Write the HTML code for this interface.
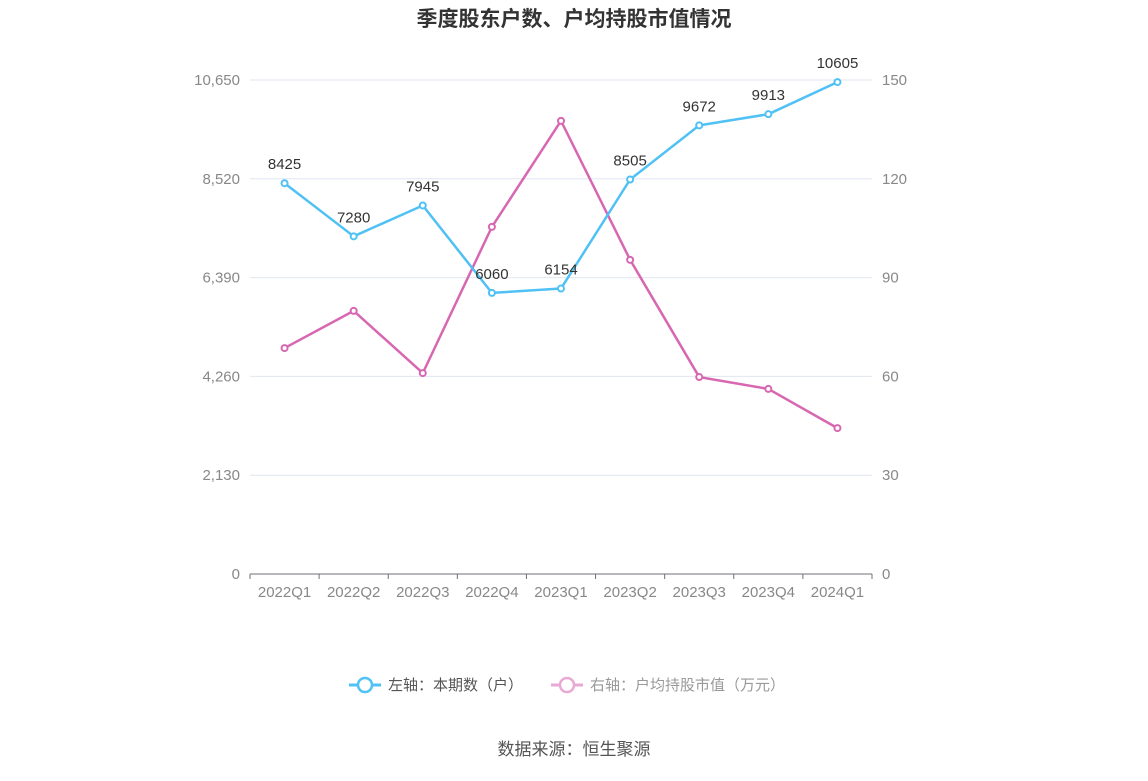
<!DOCTYPE html>
<html><head><meta charset="utf-8"><style>
body{margin:0;background:#fff;font-family:"Liberation Sans","Noto Sans CJK SC",sans-serif}
</style></head><body>
<svg width="1148" height="776" xmlns="http://www.w3.org/2000/svg" id="chart" font-family="Liberation Sans, Noto Sans CJK SC, sans-serif">
<text x="574" y="26" text-anchor="middle" font-size="21" font-weight="bold" fill="#333">季度股东户数、户均持股市值情况</text>
<g id="grid"></g><g id="axes"></g><g id="series"></g>
<g>
<g><line x1="349" y1="685" x2="381" y2="685" stroke="#4fc1f5" stroke-width="3"/><circle cx="365" cy="685" r="7" fill="#fff" stroke="#4fc1f5" stroke-width="2.5"/><text x="388" y="690" font-size="15" fill="#555">左轴：本期数（户）</text></g>
<g><line x1="551" y1="685" x2="583" y2="685" stroke="#e9a9d4" stroke-width="3"/><circle cx="567" cy="685" r="7" fill="#fff" stroke="#e9a9d4" stroke-width="2.5"/><text x="590" y="690" font-size="15" fill="#999">右轴：户均持股市值（万元）</text></g>
</g>
<text x="574" y="755" text-anchor="middle" font-size="17" fill="#555">数据来源：恒生聚源</text>
</svg>
<script>
const categories=["2022Q1","2022Q2","2022Q3","2022Q4","2023Q1","2023Q2","2023Q3","2023Q4","2024Q1"];
const holders=[8425,7280,7945,6060,6154,8505,9672,9913,10605];
const avgValue=[68.6,79.9,61.0,105.4,137.6,95.4,59.8,56.2,44.3];
const leftTicks=[0,2130,4260,6390,8520,10650];
const rightTicks=[0,30,60,90,120,150];
const NS="http://www.w3.org/2000/svg";
const x0=250,x1=872,yB=574,yT=80;
const step=(x1-x0)/categories.length;
const xS=i=>x0+step*(i+0.5);
const yL=v=>yB-(v/10650)*(yB-yT);
const yR=v=>yB-(v/150)*(yB-yT);
function mk(tag,attrs,parent,txt){const e=document.createElementNS(NS,tag);for(const k in attrs)e.setAttribute(k,attrs[k]);if(txt!==undefined)e.textContent=txt;parent.appendChild(e);return e;}
const grid=document.getElementById('grid'),axes=document.getElementById('axes'),ser=document.getElementById('series');
leftTicks.forEach((t,i)=>{const y=yL(t);
 if(i>0){const g=mk('line',{x1:x0,x2:x1,y1:y,y2:y,stroke:'#e0e6f1'},grid);}
 const l=mk('text',{x:240,y:y+5,'text-anchor':'end','font-size':15,fill:'#888'},axes,t.toLocaleString('en-US'));
 
 
});
rightTicks.forEach(t=>{const y=yR(t);
 const l=mk('text',{x:882,y:y+5,'font-size':15,fill:'#888'},axes,String(t));
 
 
});
const ax=mk('line',{x1:x0,x2:x1,y1:yB,y2:yB,stroke:'#6e7079'},axes);


categories.forEach((c,i)=>{
 const tk=mk('line',{x1:x0+step*i,x2:x0+step*i,y1:yB,y2:yB+5,stroke:'#6e7079'},axes);
 
 
 const l=mk('text',{x:xS(i),y:597,'text-anchor':'middle','font-size':15,fill:'#888'},axes,c);
 
 
});
const tk2=mk('line',{x1:x1,x2:x1,y1:yB,y2:yB+5,stroke:'#6e7079'},axes);


function line(vals,yf,color,name,labels){
 const p=mk('polyline',{points:vals.map((v,i)=>xS(i)+','+yf(v)).join(' '),fill:'none',stroke:color,'stroke-width':2.5,'stroke-linejoin':'round'},ser);
 
 
 vals.forEach((v,i)=>{
  const c=mk('circle',{cx:xS(i),cy:yf(v),r:3,fill:'#fff',stroke:color,'stroke-width':2},ser);
  
  
  if(labels){const t=mk('text',{x:xS(i),y:yf(v)-14,'text-anchor':'middle','font-size':15,fill:'#333'},ser,String(v));
   
   }
 });
}
line(avgValue,yR,'#d867b2','avg-value',false);
line(holders,yL,'#4fc1f5','holders',true);
</script>
</body></html>
